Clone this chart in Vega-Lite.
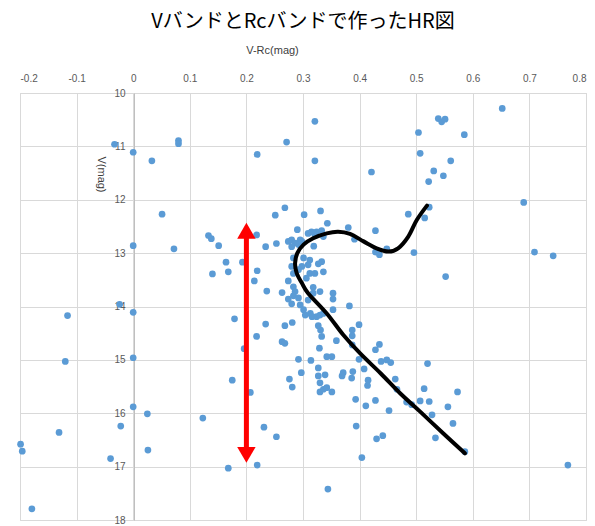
{
  "$schema": "https://vega.github.io/schema/vega-lite/v6.json",
  "width": 566,
  "height": 427,
  "autosize": "none",
  "padding": {"left": 20, "top": 93, "right": 9, "bottom": 6},
  "background": "white",
  "title": {
    "text": "VバンドとRcバンドで作ったHR図",
    "font": "Noto Sans CJK JP",
    "fontSize": 20,
    "fontWeight": "normal",
    "color": "#000000",
    "anchor": "middle",
    "offset": 12
  },
  "config": {
    "view": {"stroke": "#d9d9d9"},
    "axis": {
      "labelFont": "Liberation Sans",
      "titleFont": "Liberation Sans",
      "labelFontSize": 10,
      "titleFontSize": 11,
      "labelColor": "#595959",
      "titleColor": "#404040",
      "titleFontWeight": "normal",
      "gridColor": "#d9d9d9",
      "ticks": false
    }
  },
  "datasets": {
    "stars": [
      {"x": -0.033, "y": 10.96}, {"x": 0.0, "y": 11.11}, {"x": 0.033, "y": 11.27}, {"x": 0.08, "y": 10.89}, {"x": 0.08, "y": 10.95},
      {"x": 0.051, "y": 12.27}, {"x": 0.0, "y": 12.86}, {"x": 0.072, "y": 12.92},
      {"x": 0.133, "y": 12.67}, {"x": 0.138, "y": 12.73}, {"x": 0.151, "y": 12.86}, {"x": 0.164, "y": 13.17}, {"x": 0.14, "y": 13.39},
      {"x": 0.168, "y": 13.35}, {"x": 0.193, "y": 13.17}, {"x": 0.218, "y": 12.66}, {"x": 0.219, "y": 13.33}, {"x": 0.214, "y": 13.52},
      {"x": 0.234, "y": 12.88}, {"x": 0.253, "y": 12.82}, {"x": 0.251, "y": 12.29}, {"x": 0.268, "y": 12.15}, {"x": 0.271, "y": 10.92},
      {"x": 0.219, "y": 11.15}, {"x": 0.236, "y": 13.71},
      {"x": 0.652, "y": 10.29}, {"x": 0.539, "y": 10.48}, {"x": 0.545, "y": 10.54}, {"x": 0.551, "y": 10.49}, {"x": 0.321, "y": 10.53},
      {"x": 0.504, "y": 10.74}, {"x": 0.585, "y": 10.78}, {"x": 0.321, "y": 11.27}, {"x": 0.507, "y": 11.13}, {"x": 0.561, "y": 11.27},
      {"x": 0.531, "y": 11.46}, {"x": 0.548, "y": 11.55}, {"x": 0.522, "y": 11.66}, {"x": 0.421, "y": 11.48}, {"x": 0.69, "y": 12.05},
      {"x": 0.523, "y": 12.14}, {"x": 0.515, "y": 12.34}, {"x": 0.486, "y": 12.27},
      {"x": 0.302, "y": 12.28}, {"x": 0.331, "y": 12.21}, {"x": 0.343, "y": 12.44}, {"x": 0.38, "y": 12.52}, {"x": 0.428, "y": 12.58},
      {"x": 0.391, "y": 12.74}, {"x": 0.29, "y": 12.56},
      {"x": 0.428, "y": 12.98}, {"x": 0.435, "y": 13.03}, {"x": 0.448, "y": 12.92}, {"x": 0.496, "y": 12.99}, {"x": 0.709, "y": 12.98},
      {"x": 0.742, "y": 13.05}, {"x": 0.552, "y": 13.44},
      {"x": 0.309, "y": 12.63}, {"x": 0.315, "y": 12.6}, {"x": 0.324, "y": 12.6}, {"x": 0.333, "y": 12.58}, {"x": 0.321, "y": 12.66},
      {"x": 0.336, "y": 12.69}, {"x": 0.319, "y": 12.87},
      {"x": 0.274, "y": 12.78}, {"x": 0.28, "y": 12.75}, {"x": 0.286, "y": 12.81}, {"x": 0.295, "y": 12.75}, {"x": 0.28, "y": 12.88},
      {"x": 0.292, "y": 12.84}, {"x": 0.298, "y": 12.78},
      {"x": 0.301, "y": 13.09}, {"x": 0.312, "y": 13.13}, {"x": 0.283, "y": 13.09}, {"x": 0.333, "y": 13.16}, {"x": 0.28, "y": 13.25},
      {"x": 0.298, "y": 13.25}, {"x": 0.309, "y": 13.22}, {"x": 0.327, "y": 13.2}, {"x": 0.336, "y": 13.35}, {"x": 0.283, "y": 13.38},
      {"x": 0.292, "y": 13.31}, {"x": 0.312, "y": 13.38}, {"x": 0.321, "y": 13.38}, {"x": 0.306, "y": 13.47}, {"x": 0.274, "y": 13.52},
      {"x": 0.318, "y": 13.64}, {"x": 0.283, "y": 13.63}, {"x": 0.286, "y": 13.72}, {"x": 0.263, "y": 13.74}, {"x": 0.353, "y": 13.75},
      {"x": 0.283, "y": 13.8}, {"x": 0.292, "y": 13.84}, {"x": 0.274, "y": 13.86}, {"x": 0.28, "y": 13.95}, {"x": 0.309, "y": 13.88},
      {"x": 0.318, "y": 13.75}, {"x": 0.33, "y": 13.72}, {"x": 0.353, "y": 13.86}, {"x": 0.295, "y": 13.97}, {"x": 0.301, "y": 14.06},
      {"x": 0.304, "y": 14.16}, {"x": 0.313, "y": 14.13}, {"x": 0.316, "y": 14.19}, {"x": 0.324, "y": 14.19}, {"x": 0.33, "y": 14.16},
      {"x": 0.336, "y": 14.13}, {"x": 0.353, "y": 14.06}, {"x": 0.382, "y": 13.99},
      {"x": 0.327, "y": 14.36}, {"x": 0.331, "y": 14.44}, {"x": 0.333, "y": 14.56}, {"x": 0.399, "y": 14.34}, {"x": 0.387, "y": 14.44},
      {"x": 0.387, "y": 14.55}, {"x": 0.387, "y": 14.72}, {"x": 0.359, "y": 14.64}, {"x": 0.268, "y": 14.36}, {"x": 0.281, "y": 14.3},
      {"x": 0.263, "y": 14.66}, {"x": 0.268, "y": 14.69}, {"x": 0.329, "y": 14.78}, {"x": 0.428, "y": 14.81}, {"x": 0.435, "y": 14.71},
      {"x": 0.234, "y": 14.33}, {"x": 0.179, "y": 14.23}, {"x": 0.218, "y": 14.56}, {"x": 0.196, "y": 14.79},
      {"x": 0.292, "y": 14.99}, {"x": 0.314, "y": 15.01}, {"x": 0.342, "y": 14.94}, {"x": 0.351, "y": 14.94}, {"x": 0.327, "y": 15.15},
      {"x": 0.339, "y": 15.28}, {"x": 0.327, "y": 15.3}, {"x": 0.297, "y": 15.24}, {"x": 0.276, "y": 15.36}, {"x": 0.281, "y": 15.51},
      {"x": 0.33, "y": 15.43}, {"x": 0.33, "y": 15.6}, {"x": 0.336, "y": 15.55}, {"x": 0.342, "y": 15.52}, {"x": 0.351, "y": 15.6},
      {"x": 0.369, "y": 15.3}, {"x": 0.371, "y": 15.24}, {"x": 0.386, "y": 15.34}, {"x": 0.388, "y": 15.22}, {"x": 0.399, "y": 14.99},
      {"x": 0.408, "y": 15.17}, {"x": 0.415, "y": 15.38}, {"x": 0.414, "y": 15.48}, {"x": 0.438, "y": 15.03}, {"x": 0.448, "y": 15.0},
      {"x": 0.455, "y": 15.05}, {"x": 0.463, "y": 15.36}, {"x": 0.466, "y": 15.55}, {"x": 0.52, "y": 15.07}, {"x": 0.514, "y": 15.54},
      {"x": 0.573, "y": 15.6}, {"x": 0.175, "y": 15.38}, {"x": 0.207, "y": 15.61},
      {"x": 0.393, "y": 15.74}, {"x": 0.411, "y": 15.86}, {"x": 0.428, "y": 15.76}, {"x": 0.452, "y": 15.95}, {"x": 0.483, "y": 15.79},
      {"x": 0.492, "y": 15.84}, {"x": 0.507, "y": 15.77}, {"x": 0.523, "y": 15.78}, {"x": 0.528, "y": 16.03}, {"x": 0.556, "y": 15.88},
      {"x": 0.565, "y": 16.19}, {"x": 0.534, "y": 16.46}, {"x": 0.394, "y": 16.24}, {"x": 0.43, "y": 16.48}, {"x": 0.441, "y": 16.42},
      {"x": 0.404, "y": 16.83}, {"x": 0.586, "y": 16.72}, {"x": 0.768, "y": 16.97}, {"x": 0.344, "y": 17.42},
      {"x": -0.024, "y": 13.96}, {"x": 0.0, "y": 14.11}, {"x": -0.116, "y": 14.17}, {"x": -0.12, "y": 15.03}, {"x": 0.0, "y": 14.96},
      {"x": 0.0, "y": 15.88}, {"x": 0.025, "y": 16.01}, {"x": -0.022, "y": 16.24}, {"x": -0.131, "y": 16.36}, {"x": -0.199, "y": 16.58},
      {"x": -0.196, "y": 16.71}, {"x": -0.04, "y": 16.85}, {"x": 0.026, "y": 16.69}, {"x": -0.179, "y": 17.79}, {"x": 0.123, "y": 16.09},
      {"x": 0.168, "y": 17.03}, {"x": 0.219, "y": 16.97}, {"x": 0.231, "y": 16.26}, {"x": 0.253, "y": 16.44}
    ],
    "curve": [
      {"i": 1, "x": 0.519, "y": 12.11}, {"i": 2, "x": 0.501, "y": 12.38}, {"i": 3, "x": 0.486, "y": 12.69},
      {"i": 4, "x": 0.468, "y": 12.91}, {"i": 5, "x": 0.451, "y": 12.97}, {"i": 6, "x": 0.43, "y": 12.91},
      {"i": 7, "x": 0.407, "y": 12.78}, {"i": 8, "x": 0.383, "y": 12.64}, {"i": 9, "x": 0.362, "y": 12.6},
      {"i": 10, "x": 0.342, "y": 12.63}, {"i": 11, "x": 0.318, "y": 12.72}, {"i": 12, "x": 0.301, "y": 12.84},
      {"i": 13, "x": 0.29, "y": 13.0}, {"i": 14, "x": 0.286, "y": 13.19}, {"i": 15, "x": 0.289, "y": 13.38},
      {"i": 16, "x": 0.298, "y": 13.56}, {"i": 17, "x": 0.309, "y": 13.75}, {"i": 18, "x": 0.342, "y": 14.13},
      {"i": 19, "x": 0.371, "y": 14.53}, {"i": 20, "x": 0.401, "y": 14.88}, {"i": 21, "x": 0.437, "y": 15.25},
      {"i": 22, "x": 0.472, "y": 15.63}, {"i": 23, "x": 0.507, "y": 15.97}, {"i": 24, "x": 0.548, "y": 16.38},
      {"i": 25, "x": 0.586, "y": 16.75}
    ],
    "arrow": [
      {"x": 0.2, "y": 12.58, "y2": 16.78}
    ]
  },
  "encoding": {
    "x": {
      "field": "x",
      "type": "quantitative",
      "title": "V-Rc(mag)",
      "scale": {"domain": [-0.2, 0.8], "nice": false, "zero": false},
      "axis": {
        "orient": "top",
        "values": [-0.2, -0.1, 0, 0.1, 0.2, 0.3, 0.4, 0.5, 0.6, 0.7, 0.8],
        "labelExpr": "replace(format(datum.value, '.1~f'), '−', '-')",
        "labelPadding": 10,
        "domainColor": "#d9d9d9",
        "grid": true,
        "titleX": 252,
        "titleY": -43,
        "titleBaseline": "middle",
        "titleAlign": "center"
      }
    },
    "y": {
      "field": "y",
      "type": "quantitative",
      "title": "V(mag)",
      "scale": {"domain": [10, 18], "reverse": true, "nice": false, "zero": false},
      "axis": {
        "values": [10, 11, 12, 13, 14, 15, 16, 17, 18],
        "offset": -114,
        "labelPadding": 9,
        "domainColor": "#bfbfbf",
        "grid": true,
        "titleAngle": 90,
        "titleX": -34,
        "titleY": 81,
        "titleAlign": "center",
        "titleBaseline": "middle"
      }
    }
  },
  "layer": [
    {
      "data": {"name": "stars"},
      "mark": {"type": "circle", "size": 45, "color": "#5b9bd5", "opacity": 1}
    },
    {
      "data": {"name": "curve"},
      "mark": {"type": "line", "color": "#000000", "strokeWidth": 4, "interpolate": "cardinal", "strokeCap": "round", "strokeJoin": "round"},
      "encoding": {"order": {"field": "i", "type": "quantitative"}}
    },
    {
      "data": {"name": "arrow"},
      "mark": {"type": "rule", "color": "#ff0000", "strokeWidth": 5},
      "encoding": {"y2": {"field": "y2"}}
    },
    {
      "data": {"name": "arrow"},
      "mark": {"type": "point", "shape": "triangle-up", "filled": true, "size": 340, "color": "#ff0000", "opacity": 1}
    },
    {
      "data": {"name": "arrow"},
      "mark": {"type": "point", "shape": "triangle-down", "filled": true, "size": 340, "color": "#ff0000", "opacity": 1},
      "encoding": {
        "y": {
          "field": "y2",
          "type": "quantitative",
          "title": "V(mag)",
          "scale": {"domain": [10, 18], "reverse": true, "nice": false, "zero": false}
        }
      }
    }
  ]
}
